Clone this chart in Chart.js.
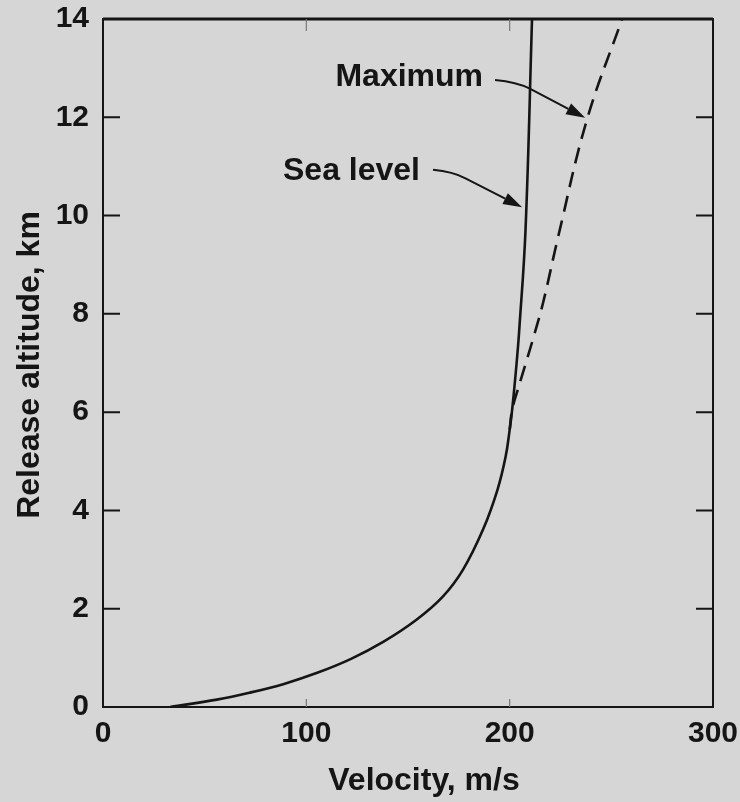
<!DOCTYPE html>
<html>
<head>
<meta charset="utf-8">
<script src="https://cdn.jsdelivr.net/npm/chart.js@4/dist/chart.umd.min.js"></script>
<style>
  html, body { margin: 0; padding: 0; background: #d6d6d6; }
</style>
</head>
<body>
<canvas id="altChart" width="740" height="802"></canvas>
<script>
// Velocity (m/s) vs release altitude (km)
const seaLevelVel = [33, 56, 72, 89, 105, 122, 138, 154, 167, 177, 187, 194, 198, 200, 201.2, 203.4, 204.7, 207.8, 211];
const seaLevelAlt = [0, 0.15, 0.29, 0.47, 0.69, 0.98, 1.33, 1.77, 2.24, 2.79, 3.62, 4.42, 5.09, 5.64, 6.04, 6.99, 7.67, 9.71, 14];
const maxVel = [200, 201.2, 204.3, 207.6, 211.2, 216.4, 223.8, 238, 255.3];
const maxAlt = [5.64, 6.04, 6.5, 6.95, 7.45, 8.22, 9.56, 11.95, 14];
const xTicks = [0, 100, 200, 300];
const yTicks = [0, 2, 4, 6, 8, 10, 12, 14];

const ink = '#151515';
const font = 'bold 32px "Liberation Sans", Arial, sans-serif';

const toPoints = (xs, ys) => xs.map((x, i) => ({ x: x, y: ys[i] }));

// frame, inward ticks, axis titles and the two labelled arrows
const decorPlugin = {
    id: 'decor',
    beforeDraw(chart) {
        const ctx = chart.ctx;
        ctx.save();
        ctx.fillStyle = '#d6d6d6';
        ctx.fillRect(0, 0, chart.width, chart.height);
        ctx.restore();
    },
    afterDatasetsDraw(chart) {
        const { ctx, chartArea: a, scales: { x, y } } = chart;
        ctx.save();
        ctx.strokeStyle = ink;
        ctx.lineWidth = 2;
        ctx.strokeRect(a.left, a.top, a.right - a.left, a.bottom - a.top);
        ctx.lineWidth = 3;
        ctx.beginPath();
        ctx.moveTo(a.left, a.top);
        ctx.lineTo(a.right, a.top);
        ctx.stroke();

        // side ticks
        ctx.lineWidth = 2;
        yTicks.slice(1, -1).forEach(v => {
            const py = y.getPixelForValue(v);
            ctx.beginPath();
            ctx.moveTo(a.left, py); ctx.lineTo(a.left + 17, py);
            ctx.moveTo(a.right, py); ctx.lineTo(a.right - 17, py);
            ctx.stroke();
        });
        // faint top / bottom ticks
        ctx.lineWidth = 1.2;
        ctx.strokeStyle = '#777';
        xTicks.slice(1, -1).forEach(v => {
            const px = x.getPixelForValue(v);
            ctx.beginPath();
            ctx.moveTo(px, a.top); ctx.lineTo(px, a.top + 12);
            ctx.moveTo(px, a.bottom); ctx.lineTo(px, a.bottom - 8);
            ctx.stroke();
        });

        // axis titles
        ctx.fillStyle = ink;
        ctx.font = font;
        ctx.textAlign = 'center';
        ctx.textBaseline = 'alphabetic';
        ctx.fillText('Velocity, m/s', 424, 790);
        ctx.save();
        ctx.translate(39, 365);
        ctx.rotate(-Math.PI / 2);
        ctx.fillText('Release altitude, km', 0, 0);
        ctx.restore();

        // labels with arrows
        const arrow = (p0, p1, p2) => {
            const P = p => [x.getPixelForValue(p[0]), y.getPixelForValue(p[1])];
            const [x0, y0] = P(p0), [x1, y1] = P(p1), [x2, y2] = P(p2);
            const ang = Math.atan2(y2 - y1, x2 - x1);
            const len = 19, half = 6;
            const bx = x2 - len * Math.cos(ang), by = y2 - len * Math.sin(ang);
            ctx.strokeStyle = ink;
            ctx.lineWidth = 2;
            ctx.beginPath();
            ctx.moveTo(x0, y0);
            ctx.quadraticCurveTo(x1, y1, x1 + (bx - x1) * 0.25, y1 + (by - y1) * 0.25);
            ctx.lineTo(bx, by);
            ctx.stroke();
            ctx.fillStyle = ink;
            ctx.beginPath();
            ctx.moveTo(x2, y2);
            ctx.lineTo(bx + half * Math.sin(ang), by - half * Math.cos(ang));
            ctx.lineTo(bx - half * Math.sin(ang), by + half * Math.cos(ang));
            ctx.closePath();
            ctx.fill();
        };
        ctx.textAlign = 'right';
        ctx.fillText('Maximum', x.getPixelForValue(186.9), y.getPixelForValue(12.64));
        ctx.fillText('Sea level', x.getPixelForValue(155.9), y.getPixelForValue(10.72));
        arrow([192.8, 12.76], [203.6, 12.72], [237.1, 11.99]);
        arrow([162.3, 10.93], [172.1, 10.89], [206.1, 10.17]);
        ctx.restore();
    }
};

const tickFont = { family: '"Liberation Sans", Arial, sans-serif', size: 30, weight: 'bold' };

const ctxAlt = document.getElementById('altChart').getContext('2d');
const altChart = new Chart(ctxAlt, {
    type: 'scatter',
    data: {
        datasets: [{
            label: 'Sea level',
            data: toPoints(seaLevelVel, seaLevelAlt),
            showLine: true,
            borderColor: ink,
            borderWidth: 2.6,
            pointRadius: 0,
            tension: 0.4
        }, {
            label: 'Maximum',
            data: toPoints(maxVel, maxAlt),
            showLine: true,
            borderColor: ink,
            borderWidth: 2.6,
            borderDash: [16, 9],
            pointRadius: 0,
            tension: 0.4
        }]
    },
    options: {
        responsive: false,
        animation: false,
        layout: { padding: { left: 0, top: 19, right: 27, bottom: 0 } },
        plugins: { legend: { display: false }, tooltip: { enabled: false } },
        scales: {
            x: {
                type: 'linear',
                min: 0,
                max: 300,
                afterBuildTicks: s => { s.ticks = xTicks.map(v => ({ value: v })); },
                afterFit: s => { s.height = 95; s.paddingLeft = 0; s.paddingRight = 0; },
                grid: { display: false, drawTicks: false },
                border: { display: false },
                ticks: { color: ink, padding: 9, maxRotation: 0, font: tickFont }
            },
            y: {
                type: 'linear',
                min: 0,
                max: 14,
                afterBuildTicks: s => { s.ticks = yTicks.map(v => ({ value: v })); },
                afterFit: s => { s.width = 103; s.paddingTop = 0; s.paddingBottom = 0; },
                grid: { display: false, drawTicks: false },
                border: { display: false },
                ticks: { color: ink, padding: 14, font: tickFont }
            }
        }
    },
    plugins: [decorPlugin]
});
</script>
</body>
</html>
